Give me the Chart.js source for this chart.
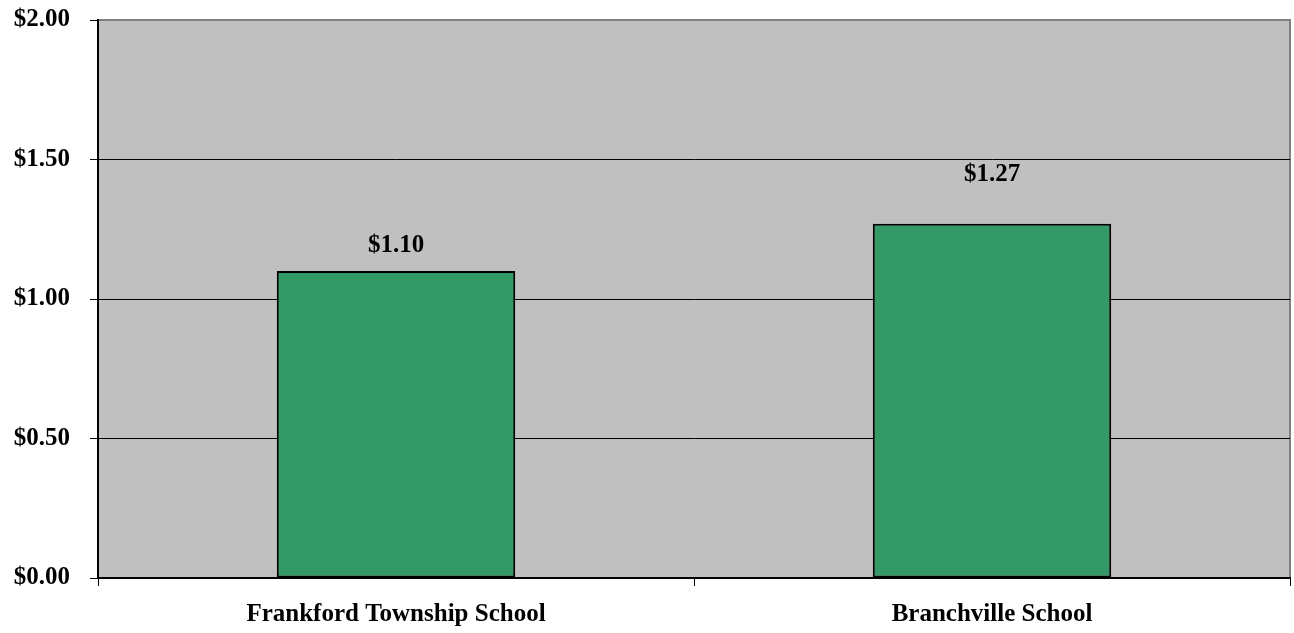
<!DOCTYPE html>
<html>
<head>
<meta charset="utf-8">
<script src="https://cdn.jsdelivr.net/npm/chart.js@4/dist/chart.umd.min.js"></script>
<style>
  html, body { margin: 0; padding: 0; background: #fff; }
  #wrap { width: 1294px; height: 633px; }
</style>
</head>
<body>
<div id="wrap"><canvas id="chart"></canvas></div>
<script>
const schools = ["Frankford Township School", "Branchville School"];
const costs = [1.10, 1.27];
const yTicks = [0, 0.5, 1.0, 1.5, 2.0];

const font = { family: "'Liberation Serif', 'Times New Roman', serif", size: 25, weight: "bold" };

// gray plot area with a gray frame, drawn under everything
const plotBackground = {
  id: "plotBackground",
  beforeDraw(chart) {
    const { ctx, chartArea: a } = chart;
    ctx.save();
    ctx.fillStyle = "#c0c0c0";
    ctx.fillRect(a.left, a.top, a.right - a.left, a.bottom - a.top);
    ctx.strokeStyle = "#808080";
    ctx.lineWidth = 2;
    ctx.strokeRect(a.left, a.top, a.right - a.left, a.bottom - a.top);
    ctx.restore();
  }
};

// value labels above bars
const valueLabels = {
  id: "valueLabels",
  afterDatasetsDraw(chart) {
    const { ctx } = chart;
    const meta = chart.getDatasetMeta(0);
    const lift = [26, 49];
    ctx.save();
    ctx.font = "bold 25px 'Liberation Serif', 'Times New Roman', serif";
    ctx.fillStyle = "#000";
    ctx.textAlign = "center";
    ctx.textBaseline = "middle";
    meta.data.forEach((bar, i) => {
      ctx.fillText("$" + costs[i].toFixed(2), bar.x, bar.y - lift[i]);
    });
    ctx.restore();
  }
};

new Chart(document.getElementById("chart"), {
  type: "bar",
  data: {
    labels: schools,
    datasets: [{
      data: costs,
      backgroundColor: "#339966",
      borderColor: "#000",
      borderWidth: 2,
      borderSkipped: false,
      barPercentage: 0.4,
      categoryPercentage: 1.0
    }]
  },
  options: {
    responsive: true,
    maintainAspectRatio: false,
    animation: false,
    layout: { padding: { top: 20, right: 4, left: 0, bottom: 0 } },
    plugins: { legend: { display: false }, tooltip: { enabled: false } },
    scales: {
      x: {
        grid: { offset: true, drawOnChartArea: false, tickLength: 8, tickColor: "#000", lineWidth: 1 },
        border: { color: "#000", width: 2 },
        ticks: { color: "#000", font: font, padding: 14 },
        afterFit(scale) { scale.height = 55; scale.paddingLeft = 0; scale.paddingRight = 0; }
      },
      y: {
        min: 0,
        max: 2,
        afterBuildTicks(scale) { scale.ticks = yTicks.map(v => ({ value: v })); },
        grid: {
          color: ctx => (ctx.tick && ctx.tick.value === 2 ? "rgba(0,0,0,0)" : "#000"),
          tickColor: "#000",
          tickLength: 8,
          lineWidth: 1
        },
        border: { color: "#000", width: 2 },
        ticks: {
          color: "#000",
          font: font,
          padding: 20,
          callback: v => "$" + Number(v).toFixed(2)
        },
        afterFit(scale) { scale.width = 98; scale.paddingTop = 0; scale.paddingBottom = 0; }
      }
    }
  },
  plugins: [plotBackground, valueLabels]
});
</script>
</body>
</html>
